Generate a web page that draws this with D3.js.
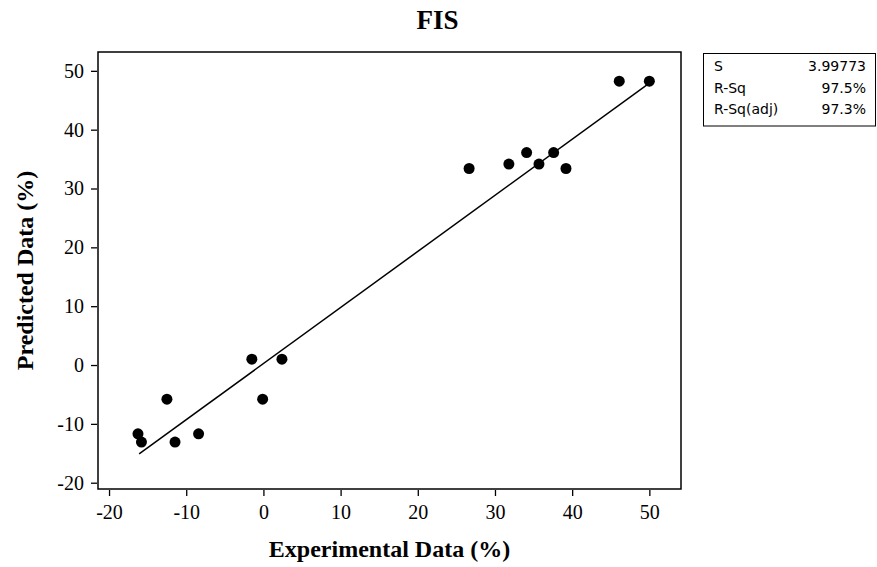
<!DOCTYPE html>
<html>
<head>
<meta charset="utf-8">
<script src="https://cdn.jsdelivr.net/npm/d3@7"></script>
<style>
  html, body { margin: 0; padding: 0; background: #fff; }
  svg { display: block; }
</style>
</head>
<body>
<svg id="chart" width="877" height="567"></svg>
<script>
// ---- data ----
const experimental = [-16.25, -15.8, -12.5, -11.45, -8.4, -1.5, -0.1, 2.4,
                      26.65, 31.8, 34.1, 35.7, 37.6, 39.2, 46.1, 50.0];
const predicted    = [-11.7, -13.1, -5.8, -13.1, -11.7, 1.0, -5.8, 1.0,
                      33.4, 34.15, 36.1, 34.15, 36.1, 33.4, 48.25, 48.25];
const fitX = [-16.1, 50.0];
const fitY = [-15.1, 47.9];
const xTicks = [-20, -10, 0, 10, 20, 30, 40, 50];
const yTicks = [-20, -10, 0, 10, 20, 30, 40, 50];
const statLabels = ["S", "R-Sq", "R-Sq(adj)"];
const statValues = ["3.99773", "97.5%", "97.3%"];
const chartTitle = "FIS";
const xTitle = "Experimental Data (%)";
const yTitle = "Predicted Data (%)";

// ---- layout ----
const svg = d3.select("#chart");
const pLeft = 98, pRight = 681, pTop = 52, pBottom = 489;
const x = d3.scaleLinear().domain([-21.43, 54.1]).range([pLeft, pRight]);
const y = d3.scaleLinear().domain([-21.07, 53.2]).range([pBottom, pTop]);
const serif = "'Liberation Serif', 'Times New Roman', serif";
const sans = "'DejaVu Sans', Verdana, sans-serif";
const fmt = d => String(d);

// frame
svg.append("rect")
  .attr("x", pLeft).attr("y", pTop)
  .attr("width", pRight - pLeft).attr("height", pBottom - pTop)
  .attr("fill", "none").attr("stroke", "#000").attr("stroke-width", 1.5);

// x axis
const gx = svg.append("g")
  .attr("transform", `translate(0,${pBottom + 1})`)
  .call(d3.axisBottom(x).tickValues(xTicks).tickSize(6).tickPadding(9).tickFormat(fmt));
gx.select(".domain").remove();
gx.selectAll(".tick line").attr("stroke", "#000").attr("stroke-width", 1.3);
gx.selectAll(".tick text").attr("font-family", serif).attr("font-size", 20).attr("fill", "#000");

// y axis
const gy = svg.append("g")
  .attr("transform", `translate(${pLeft - 1},0)`)
  .call(d3.axisLeft(y).tickValues(yTicks).tickSize(6).tickPadding(7).tickFormat(fmt));
gy.select(".domain").remove();
gy.selectAll(".tick line").attr("stroke", "#000").attr("stroke-width", 1.3);
gy.selectAll(".tick text").attr("font-family", serif).attr("font-size", 20).attr("fill", "#000");

// fitted line
const fitData = fitX.map((d, i) => [d, fitY[i]]);
svg.append("path")
  .datum(fitData)
  .attr("fill", "none").attr("stroke", "#000").attr("stroke-width", 1.5)
  .attr("d", d3.line().x(d => x(d[0])).y(d => y(d[1])));

// points
svg.append("g").selectAll("circle")
  .data(experimental.map((d, i) => [d, predicted[i]]))
  .join("circle")
  .attr("cx", d => x(d[0])).attr("cy", d => y(d[1]))
  .attr("r", 5.5).attr("fill", "#000");

// titles
svg.append("text")
  .attr("x", (pLeft + pRight) / 2 + 48).attr("y", 29)
  .attr("text-anchor", "middle")
  .attr("font-family", serif).attr("font-weight", "bold").attr("font-size", 27)
  .text(chartTitle);

svg.append("text")
  .attr("x", (pLeft + pRight) / 2).attr("y", 557)
  .attr("text-anchor", "middle")
  .attr("font-family", serif).attr("font-weight", "bold").attr("font-size", 24)
  .text(xTitle);

svg.append("text")
  .attr("transform", `translate(33,${(pTop + pBottom) / 2}) rotate(-90)`)
  .attr("text-anchor", "middle")
  .attr("font-family", serif).attr("font-weight", "bold").attr("font-size", 24)
  .text(yTitle);

// stats box
const bx = 703.5, by = 53.5, bw = 172, bh = 72.5;
svg.append("rect")
  .attr("x", bx).attr("y", by).attr("width", bw).attr("height", bh)
  .attr("fill", "#fff").attr("stroke", "#000").attr("stroke-width", 1);
const rowY = [71, 92.5, 114];
statLabels.forEach((lab, i) => {
  svg.append("text")
    .attr("x", 714).attr("y", rowY[i])
    .attr("font-family", sans).attr("font-size", 14).attr("fill", "#000")
    .text(lab);
  svg.append("text")
    .attr("x", 866).attr("y", rowY[i])
    .attr("text-anchor", "end")
    .attr("font-family", sans).attr("font-size", 14).attr("fill", "#000")
    .text(statValues[i]);
});
</script>
</body>
</html>
